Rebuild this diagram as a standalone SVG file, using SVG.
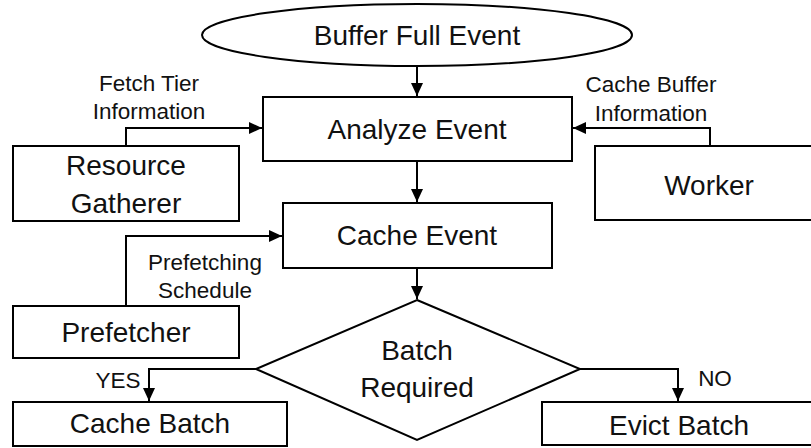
<svg xmlns="http://www.w3.org/2000/svg" width="811" height="448" viewBox="0 0 811 448">
<style>
.shape{fill:#fff;stroke:#000;stroke-width:2}
.conn{fill:none;stroke:#000;stroke-width:2}
.big{font-family:"Liberation Sans",Arial,sans-serif;font-size:28px;fill:#111;text-anchor:middle}
.small{font-family:"Liberation Sans",Arial,sans-serif;font-size:22.5px;fill:#111;text-anchor:middle}
</style>
<defs>
<marker id="arr" markerUnits="userSpaceOnUse" markerWidth="16" markerHeight="16" viewBox="0 0 16 16" refX="13" refY="8" orient="auto">
<path d="M0,2 L13,8 L0,14 Z" fill="#000"/>
</marker>
</defs>
<rect width="811" height="448" fill="#fff"/>
<g id="connectors">
<path class="conn" d="M417,66 V96" marker-end="url(#arr)"/>
<path class="conn" d="M417,161 V202" marker-end="url(#arr)"/>
<path class="conn" d="M417,268 V299" marker-end="url(#arr)"/>
<path class="conn" d="M126,146 V128 H262" marker-end="url(#arr)"/>
<path class="conn" d="M710,146 V128 H573" marker-end="url(#arr)"/>
<path class="conn" d="M126,306 V236 H282" marker-end="url(#arr)"/>
<path class="conn" d="M256,369 H149 V401" marker-end="url(#arr)"/>
<path class="conn" d="M580,369 H678 V401" marker-end="url(#arr)"/>
<text class="small" x="149" y="91">Fetch Tier</text>
<text class="small" x="149" y="119">Information</text>
<text class="small" x="651" y="92">Cache Buffer</text>
<text class="small" x="651" y="121">Information</text>
<text class="small" x="205" y="270">Prefetching</text>
<text class="small" x="205" y="298">Schedule</text>
<text class="small" x="118" y="388">YES</text>
<text class="small" x="715" y="386">NO</text>
</g>
<g id="buffer-full-event">
<ellipse class="shape" cx="417" cy="35" rx="215" ry="31"/>
<text class="big" x="417" y="45">Buffer Full Event</text>
</g>
<g id="analyze-event">
<rect class="shape" x="263" y="97" width="309" height="64"/>
<text class="big" x="417" y="139">Analyze Event</text>
</g>
<g id="resource-gatherer">
<rect class="shape" x="13" y="146" width="226" height="75"/>
<text class="big" x="126" y="175">Resource</text>
<text class="big" x="126" y="213">Gatherer</text>
</g>
<g id="worker">
<rect class="shape" x="595" y="146" width="229" height="74"/>
<text class="big" x="709" y="195">Worker</text>
</g>
<g id="cache-event">
<rect class="shape" x="283" y="203" width="269" height="65"/>
<text class="big" x="417" y="245">Cache Event</text>
</g>
<g id="prefetcher">
<rect class="shape" x="13" y="306" width="226" height="52"/>
<text class="big" x="126" y="342">Prefetcher</text>
</g>
<g id="batch-required">
<polygon class="shape" points="417,300 580,369 417,440 256,369"/>
<text class="big" x="417" y="360">Batch</text>
<text class="big" x="417" y="397">Required</text>
</g>
<g id="cache-batch">
<rect class="shape" x="13" y="402" width="274" height="44"/>
<text class="big" x="150" y="433">Cache Batch</text>
</g>
<g id="evict-batch">
<rect class="shape" x="542" y="402" width="274" height="43"/>
<text class="big" x="679" y="435">Evict Batch</text>
</g>
</svg>
